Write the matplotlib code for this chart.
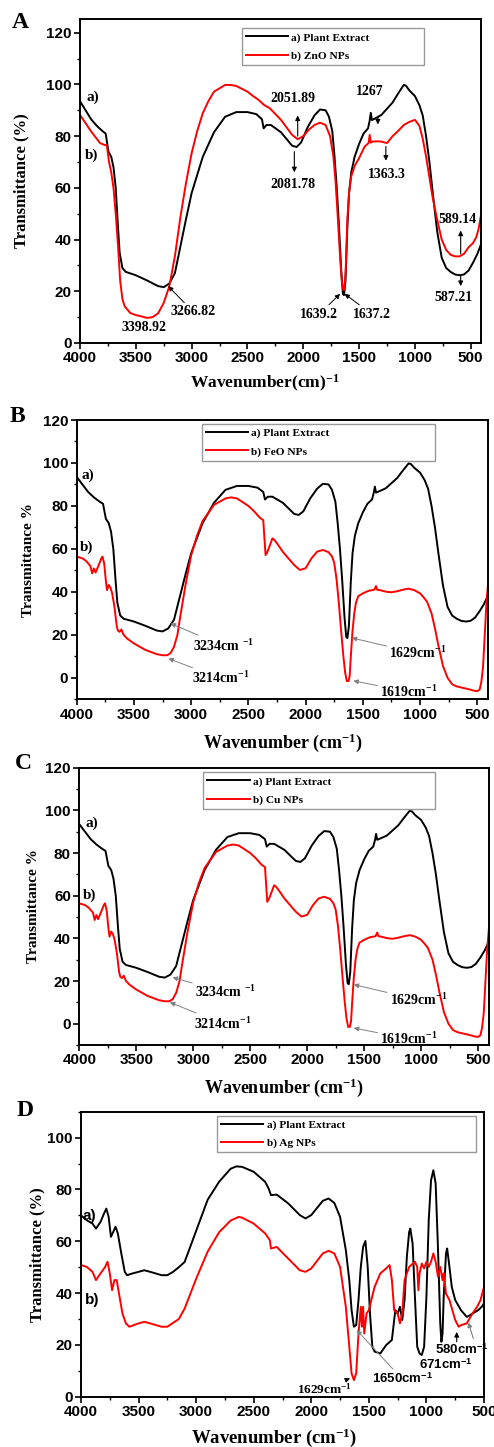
import matplotlib
matplotlib.use('Agg')
import matplotlib.pyplot as plt
from matplotlib.ticker import MultipleLocator

plt.rcParams['font.family'] = ['Liberation Sans', 'DejaVu Sans']
plt.rcParams['font.weight'] = 'bold'
plt.rcParams['axes.labelweight'] = 'bold'
plt.rcParams['mathtext.fontset'] = 'custom'
plt.rcParams['mathtext.rm'] = 'Liberation Serif:bold'
plt.rcParams['mathtext.bf'] = 'Liberation Serif:bold'
plt.rcParams['mathtext.sf'] = 'Liberation Sans:bold'
plt.rcParams['mathtext.default'] = 'rm'

SERIF = 'Liberation Serif'

# plant extract spectrum (panels A, B, C)
plant_wn = [4000, 3950, 3900, 3850, 3800, 3770, 3745, 3720, 3700, 3680, 3660, 3645, 3620,
            3590, 3500, 3400, 3300, 3250, 3200, 3150, 3100, 3050, 3000, 2900, 2800, 2700,
            2600, 2500, 2420, 2370, 2355, 2330, 2290, 2200, 2100, 2060, 2020, 1960, 1900,
            1850, 1800, 1770, 1740, 1720, 1700, 1680, 1660, 1645, 1635, 1622, 1605, 1590,
            1570, 1540, 1500, 1460, 1420, 1405, 1395, 1385, 1350, 1300, 1200, 1150, 1100,
            1080, 1050, 1000, 960, 930, 900, 870, 840, 800, 760, 720, 680, 640, 600, 560,
            520, 480, 440, 405]
plant_t = [93.5, 90, 86.5, 84, 82, 81, 74, 72, 68, 60, 45, 35, 29,
           27.5, 26.2, 24.2, 22, 21.6, 23, 27, 37.5, 48, 58, 72, 81.5, 87.5,
           89.3, 89.3, 88.5, 86.5, 83, 84.3, 84.3, 81.5, 76.3, 75.8, 77.5, 83.5, 88,
           90.3, 90, 87.5, 82, 72, 60, 45, 28, 19, 18.5, 24, 45, 58,
           66, 72, 77, 81, 83, 86, 89, 86.2, 87, 88.2, 93, 96.5, 99.8,
           99.5, 97.7, 95.5, 92, 88, 80, 70, 58, 43, 33, 29, 27.5, 26.5, 26.2, 26.5,
           28, 31, 34.5, 38.5]

# ZnO NPs (panel A)
zno_wn = [4000, 3950, 3900, 3850, 3820, 3780, 3760, 3740, 3720, 3700, 3680, 3660, 3640,
          3620, 3600, 3550, 3500, 3450, 3400, 3350, 3300, 3250, 3200, 3150, 3100, 3050,
          3000, 2950, 2900, 2850, 2800, 2700, 2650, 2600, 2500, 2450, 2400, 2350, 2300,
          2200, 2100, 2050, 2000, 1950, 1900, 1850, 1800, 1760, 1730, 1710, 1690, 1670,
          1655, 1642, 1632, 1620, 1605, 1590, 1570, 1540, 1500, 1450, 1415, 1405, 1395,
          1380, 1340, 1300, 1250, 1200, 1150, 1100, 1050, 1000, 960, 930, 900, 870, 840,
          800, 760, 720, 680, 640, 600, 560, 520, 480, 450, 430, 410]
zno_t = [88.2, 85, 81.8, 79, 77.3, 76.6, 76.5, 70, 66, 60, 50, 38, 24,
         17, 14.2, 11.6, 10.8, 10.3, 9.7, 10, 11.5, 15.5, 21.9, 33.5, 48.9, 62,
         73.4, 82, 88.9, 93.5, 97.2, 99.8, 99.8, 99.4, 97.2, 95.5, 94, 92, 90.8,
         86.3, 80.5, 78.8, 80, 82.5, 84.3, 85.2, 84.3, 80, 72, 62, 48, 33,
         24, 20.6, 20.6, 28, 48, 58, 64.5, 68.5, 71.5, 76, 77.3, 80.5, 77.5,
         77.9, 78, 77.9, 77.3, 80, 82, 84.3, 85.5, 86.3, 84, 79, 72.1, 64, 56,
         47.6, 40, 36, 34.1, 33.5, 33.5, 34.5, 37, 38.6, 41, 44, 49]

# FeO NPs (panel B) and Cu NPs (panel C) share the same trace
np_wn = [4000, 3950, 3920, 3900, 3880, 3865, 3850, 3835, 3820, 3800, 3785, 3775, 3760,
         3745, 3735, 3720, 3705, 3690, 3670, 3650, 3640, 3625, 3610, 3590, 3560, 3500,
         3400, 3300, 3250, 3210, 3180, 3150, 3120, 3100, 3050, 3000, 2950, 2900, 2800,
         2700, 2650, 2600, 2500, 2450, 2400, 2370, 2360, 2350, 2335, 2310, 2290, 2270,
         2250, 2200, 2100, 2050, 2000, 1950, 1900, 1850, 1800, 1770, 1750, 1730, 1710,
         1690, 1670, 1655, 1640, 1625, 1615, 1605, 1590, 1575, 1560, 1540, 1500, 1450,
         1400, 1385, 1375, 1350, 1300, 1250, 1200, 1150, 1100, 1050, 1000, 970, 940,
         900, 870, 840, 800, 760, 720, 680, 640, 600, 560, 530, 500, 480, 465, 450, 435,
         420, 405]
feo_t = [56.4, 55.6, 54.5, 53.3, 52, 48.6, 50.9, 49, 50.9, 53.5, 55.6, 56.4, 53.3,
         45, 40.8, 43.2, 42, 39.3, 33, 24, 22, 21.4, 22.5, 20, 18.3, 16,
         13, 11, 10.5, 10.5, 11.5, 14.4, 20, 27, 43, 57, 66, 73, 80.5,
         83.5, 84, 83.5, 80, 77.5, 74.5, 73.4, 65, 57.1, 58.5, 62, 64.9, 64,
         62.6, 58.7, 52.5, 50.2, 51, 55.5, 58.7, 59.5, 58.5, 56.5, 53.5, 46, 35,
         22, 10, 2.5, -1.5, -1.5, 1, 10, 22, 30, 35, 38, 39.3, 40.5,
         41, 42.7, 41, 40.8, 40.1, 39.8, 40.3, 41, 41.5, 40.8, 39.3, 37.5, 35.5,
         30, 23, 15, 5.5, 0, -3, -4, -4.5, -5, -5.5, -6, -6.2, -5.5, -2, 5, 20,
         35, 44.5]
cu_t = feo_t

# plant extract (panel D)
plant_d_wn = [4000, 3950, 3900, 3870, 3830, 3800, 3780, 3760, 3740, 3720, 3700, 3680, 3650,
              3620, 3600, 3550, 3500, 3450, 3400, 3300, 3250, 3200, 3150, 3100, 3000, 2900,
              2800, 2700, 2650, 2600, 2500, 2400, 2370, 2350, 2300, 2200, 2100, 2050, 2000,
              1900, 1850, 1800, 1750, 1700, 1670, 1650, 1630, 1610, 1590, 1570, 1550, 1530,
              1510, 1490, 1470, 1450, 1400, 1380, 1350, 1300, 1280, 1270, 1250, 1230, 1210,
              1190, 1170, 1150, 1140, 1120, 1100, 1080, 1060, 1040, 1020, 1000, 980, 960,
              940, 920, 900, 880, 870, 860, 850, 830, 820, 800, 780, 750, 700, 650, 620, 600,
              550, 520, 500]
plant_d_t = [70, 68.1, 66.8, 64.9, 67.5, 70.7, 72.6, 69.4, 61.7, 63.6, 65.6, 63, 55.3,
             48.2, 46.9, 47.6, 48.2, 48.8, 48.2, 46.9, 46.9, 48.2, 50, 52, 64, 76,
             83, 88, 88.9, 88.7, 86.8, 82.9, 80.3, 77.8, 78, 74.6, 70.1, 68.8, 70.1,
             75.6, 76.5, 74.8, 69.4, 56.6, 45, 33.4, 27, 27.6, 37.3, 50.1, 57.8, 60.1,
             50.1, 32.1, 19.3, 17.4, 16.7, 18, 19.9, 21.9, 29.6, 33.4, 32.1, 34.7, 29.6,
             37.3, 54, 63.6, 64.9, 59.1, 38.6, 19.3, 16.7, 16.1, 19.3, 38.6, 68.1, 83.5,
             87.4, 82.3, 57.8, 28.3, 21.2, 24.4, 38.6, 55.3, 57.2, 50.1, 42.4, 37.3, 33.4,
             30.8, 31.5, 32.1, 33.4, 34.7, 36]

# Ag NPs (panel D)
ag_wn = [4000, 3950, 3900, 3870, 3830, 3790, 3770, 3750, 3730, 3710, 3690, 3670, 3640,
         3610, 3580, 3500, 3450, 3400, 3300, 3250, 3200, 3150, 3100, 3000, 2900, 2800,
         2700, 2630, 2600, 2500, 2400, 2360, 2350, 2300, 2200, 2100, 2050, 2000, 1900,
         1850, 1800, 1750, 1700, 1670, 1650, 1630, 1610, 1590, 1570, 1560, 1550, 1540,
         1520, 1500, 1450, 1400, 1350, 1320, 1300, 1280, 1250, 1230, 1210, 1190, 1170,
         1150, 1100, 1080, 1070, 1060, 1040, 1020, 1000, 980, 960, 940, 920, 900, 880,
         860, 850, 830, 800, 750, 720, 700, 650, 600, 560, 530, 500]
ag_t = [50.8, 50.1, 48.2, 45, 47.6, 50.1, 52.1, 47.6, 41.1, 45, 45, 39.8, 32.1,
        28.3, 27, 28.3, 28.9, 28.3, 27, 27, 28.5, 30, 34, 45.5, 56, 63.5,
        68, 69.4, 69.1, 66.8, 63, 60.4, 57.2, 57.8, 53.3, 48.8, 48.2, 49.5, 55.3,
        56.3, 55.3, 50.1, 34.7, 19.3, 9, 6.4, 9, 24.4, 34.7, 27, 34.7, 24.4,
        32.1, 33.4, 42.4, 47.6, 49.5, 50.8, 45, 33.4, 32.1, 28.3, 32.1, 45, 47.6,
        50.1, 52.1, 50.1, 41.1, 47.6, 51.4, 49.5, 52.1, 50.1, 52.1, 55.3, 52.1, 46.3, 50.1,
        45, 47.6, 39.8, 37.3, 29.6, 27, 27.6, 28.3, 32.1, 34.7, 37.3, 42.4]

W, H = 494, 1447
fig = plt.figure(figsize=(W / 100, H / 100), dpi=100)


def px_axes(left, top, right, bottom):
    return fig.add_axes([left / W, 1 - bottom / H, (right - left) / W, (bottom - top) / H])


def style(ax, xlim, ylim, ymax_tick):
    ax.set_xlim(*xlim)
    ax.set_ylim(*ylim)
    ax.xaxis.set_major_locator(MultipleLocator(500))
    ax.xaxis.set_minor_locator(MultipleLocator(250))
    ax.set_yticks(range(0, ymax_tick + 1, 20))
    ax.yaxis.set_minor_locator(MultipleLocator(10))
    ax.tick_params(which='major', direction='out', length=4, width=1.2, labelsize=11, pad=2)
    ax.tick_params(which='minor', direction='out', length=2.5, width=1.0)
    for s in ax.spines.values():
        s.set_linewidth(1.4)


def labels(ax, ylab, ysize, yx, xlab, xsize, xx, xy):
    ax.set_ylabel(ylab, family=SERIF, fontsize=ysize, fontweight='bold')
    ax.yaxis.set_label_coords(yx, 0.5)
    ax.yaxis.label.set_va('center')
    ax.set_xlabel(xlab, family=SERIF, fontsize=xsize, fontweight='bold')
    ax.xaxis.set_label_coords(xx, xy)
    ax.xaxis.label.set_va('center')


def legend(ax, label_b, x0, x1, top, bottom):
    ax.legend(['a) Plant Extract', label_b], loc='upper left',
              bbox_to_anchor=(x0, bottom, x1 - x0, top - bottom), mode='expand',
              prop={'family': SERIF, 'weight': 'bold', 'size': 8.2},
              frameon=True, fancybox=False, edgecolor='0.6', framealpha=1,
              handlelength=3.7, handletextpad=0.3, borderpad=0.35, labelspacing=0.7,
              borderaxespad=0)


def note(ax, text, xy, xytext=None, color='k', family=SERIF, size=10, ha='left'):
    if xytext is None:
        ax.text(xy[0], xy[1], text, fontsize=size, family=family, ha=ha, va='center')
    else:
        ax.annotate(text, xy=xy, xytext=xytext, fontsize=size, family=family, ha=ha,
                    va='center',
                    arrowprops=dict(arrowstyle='-|>', color=color, lw=0.7, mutation_scale=7,
                                    shrinkA=0, shrinkB=0))


def arrow(ax, start, end, color='k'):
    ax.annotate('', xy=end, xytext=start,
                arrowprops=dict(arrowstyle='-|>', color=color, lw=0.8, mutation_scale=7,
                                shrinkA=0, shrinkB=0))


# ---------- A ----------
axA = px_axes(80, 19, 481, 343)
axA.plot(plant_wn, plant_t, color='k', lw=1.4)
axA.plot(zno_wn, zno_t, color='#ff0000', lw=1.4)
style(axA, (4000, 408), (0, 125.3), 120)
legend(axA, 'b) ZnO NPs', 0.403, 0.858, 0.971, 0.837)
labels(axA, 'Transmittance (%)', 12, -0.145, 'Wavenumber(cm)$^{-1}$', 12.5, 0.461, -0.125)
note(axA, 'a)', (3945, 95), size=11)
note(axA, 'b)', (3955, 72.5), size=11)
note(axA, '3398.92', (3427, 6), size=10, ha='center')
note(axA, '3266.82', (3210, 22), xytext=(2985, 12), size=10, ha='center')
note(axA, '2051.89', (2097, 94.4), size=10, ha='center')
arrow(axA, (2050, 80), (2050, 88))
note(axA, '2081.78', (2097, 61.4), size=10, ha='center')
arrow(axA, (2080, 74), (2080, 66))
note(axA, '1267', (1401, 97.2), size=10, ha='center')
arrow(axA, (1332, 87.2), (1332, 84.5))
note(axA, '1363.3', (1253, 65.3), size=10, ha='center')
arrow(axA, (1260, 76), (1260, 70.5))
note(axA, '1639.2', (1670, 19), xytext=(1856, 11.2), size=10, ha='center')
note(axA, '1637.2', (1630, 19), xytext=(1386, 11.2), size=10, ha='center')
note(axA, '589.14', (619, 47.6), size=10, ha='center')
arrow(axA, (590, 34.5), (590, 43.5))
note(axA, '587.21', (655, 17.5), size=10, ha='center')
arrow(axA, (590, 26), (590, 22))

# ---------- B ----------
axB = px_axes(76.7, 420, 488.3, 699.3)
axB.plot(plant_wn, plant_t, color='k', lw=1.4)
axB.plot(np_wn, feo_t, color='#ff0000', lw=1.4)
style(axB, (4000, 404), (-10, 120), 120)
legend(axB, 'b) FeO NPs', 0.304, 0.870, 0.985, 0.865)
labels(axB, 'Transmittance %', 11, -0.116, 'Wavenumber (cm$^{-1}$)', 13, 0.5, -0.156)
note(axB, 'a)', (3955, 94.4), size=11)
note(axB, 'b)', (3970, 60.7), size=11)
note(axB, '3234cm $^{-1}$', (3179, 25.3), xytext=(2987, 14.9), color='0.5', size=10)
note(axB, '3214cm$^{-1}$', (3199, 9), xytext=(2995, -0.3), color='0.5', size=10)
note(axB, '1629cm$^{-1}$', (1597, 18.6), xytext=(1268, 11.3), color='0.5', size=10)
note(axB, '1619cm$^{-1}$', (1583, -1.4), xytext=(1350, -6.5), color='0.5', size=10)

# ---------- C ----------
axC = px_axes(79.3, 767.7, 489, 1045)
axC.plot(plant_wn, plant_t, color='k', lw=1.4)
axC.plot(np_wn, cu_t, color='#ff0000', lw=1.4)
style(axC, (4000, 404), (-10, 120), 120)
legend(axC, 'b) Cu NPs', 0.303, 0.868, 0.983, 0.863)
labels(axC, 'Transmittance %', 11, -0.113, 'Wavenumber (cm$^{-1}$)', 13, 0.5, -0.155)
note(axC, 'a)', (3942, 93.9), size=11)
note(axC, 'b)', (3965, 60.4), size=11)
note(axC, '3234cm $^{-1}$', (3181, 21.7), xytext=(2985, 14.7), color='0.5', size=10)
note(axC, '3214cm$^{-1}$', (3205, 10), xytext=(2994, 0), color='0.5', size=10)
note(axC, '1629cm$^{-1}$', (1591, 18.3), xytext=(1275, 11.2), color='0.5', size=10)
note(axC, '1619cm$^{-1}$', (1591, -2), xytext=(1357, -7.2), color='0.5', size=10)

# ---------- D ----------
axD = px_axes(81, 1111.7, 484, 1396.7)
axD.plot(plant_d_wn, plant_d_t, color='k', lw=1.4)
axD.plot(ag_wn, ag_t, color='#ff0000', lw=1.4)
style(axD, (4000, 500), (0, 110), 100)
legend(axD, 'b) Ag NPs', 0.338, 0.980, 0.985, 0.848)
labels(axD, 'Transmittance (%)', 12, -0.107, 'Wavenumber (cm$^{-1}$)', 13.5, 0.479, -0.145)
note(axD, 'a)', (3986, 69.7), family='Liberation Sans', size=11)
note(axD, 'b)', (3965, 37.3), family='Liberation Sans', size=11)
note(axD, '1629cm$^{-1}$', (1664, 7.1), xytext=(2127, 3), size=9.5)
note(axD, '1650cm$^{\\mathsf{-1}}$', (1606, 25.7), xytext=(1475, 6.8), color='0.5',
     family='Liberation Sans', size=9.5)
note(axD, '671cm$^{\\mathsf{-1}}$', (1062, 12.2), family='Liberation Sans', size=9.5)
arrow(axD, (737, 21.2), (737, 25))
note(axD, '580cm$^{\\mathsf{-1}}$', (925, 18), family='Liberation Sans', size=9.5)
arrow(axD, (593, 22.5), (636, 28.7), color='0.5')

# panel letters
for letter, x, y in [('A', 12, 22.5), ('B', 10, 416.5), ('C', 15, 764), ('D', 17, 1110)]:
    fig.text(x / W, 1 - y / H, letter, family=SERIF, fontsize=17, fontweight='bold',
             ha='left', va='center')

fig.savefig('out.png', dpi=100)
